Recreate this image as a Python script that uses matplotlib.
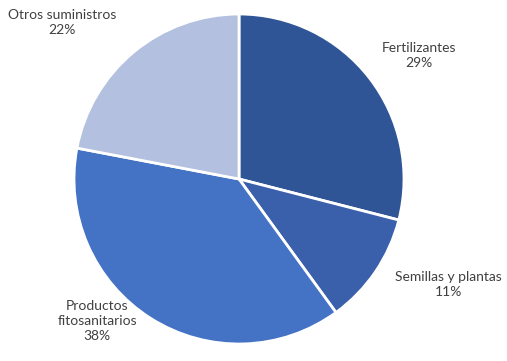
import matplotlib.pyplot as plt

labels = ['Fertilizantes', 'Semillas y plantas', 'Productos\nfitosanitarios', 'Otros suministros']
shares = [29, 11, 38, 22]
colors = ['#2F5597', '#3A60AC', '#4472C4', '#B4C0E0']

# label anchor points (data coords, pie radius = 1)
label_pos = [(1.09, 0.75), (1.27, -0.64), (-0.86, -0.86), (-1.07, 0.95)]

fig = plt.figure(figsize=(5.07, 3.61), dpi=100)
ax = fig.add_axes([74 / 507, 17 / 361, 330 / 507, 330 / 361])

ax.pie(shares, colors=colors, startangle=90, counterclock=False,
       radius=1, wedgeprops=dict(edgecolor='white', linewidth=2))

for lab, val, (x, y) in zip(labels, shares, label_pos):
    ax.text(x, y, f'{lab}\n{val}%', ha='center', va='center',
            fontsize=10, color='#404040', family='Lato', linespacing=1.3)

ax.set_xlim(-1, 1)
ax.set_ylim(-1, 1)
ax.set_aspect('equal')
ax.axis('off')

fig.savefig('out.png', dpi=100)
